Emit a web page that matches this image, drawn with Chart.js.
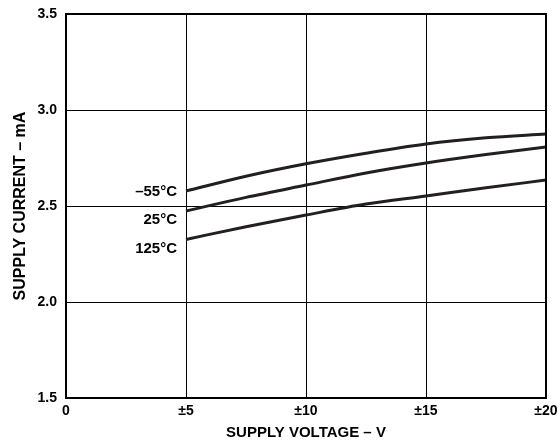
<!DOCTYPE html>
<html>
<head>
<meta charset="utf-8">
<script src="https://cdn.jsdelivr.net/npm/chart.js@4/dist/chart.umd.min.js"></script>
<style>
html,body{margin:0;padding:0;background:#fff;}
#wrap{width:558px;height:446px;}
</style>
</head>
<body>
<div id="wrap"><canvas id="c" width="558" height="446"></canvas></div>
<script>
const voltages = [5, 7.5, 10, 12.5, 15, 17.5, 20];
const curM55 = [2.578, 2.655, 2.720, 2.775, 2.823, 2.855, 2.875];
const cur25  = [2.474, 2.545, 2.609, 2.672, 2.724, 2.768, 2.807];
const cur125 = [2.326, 2.392, 2.453, 2.510, 2.552, 2.595, 2.635];
const seriesLabels = ['\u201355\u00B0C', '25\u00B0C', '125\u00B0C'];
const xTickValues = [0, 5, 10, 15, 20];
const xTickLabels = ['0', '\u00B15', '\u00B110', '\u00B115', '\u00B120'];
const yTickLabels = ['1.5', '2.0', '2.5', '3.0', '3.5'];

const FONT = "'Liberation Sans', Arial, Helvetica, sans-serif";
const INK = '#231f20';

function mk(vals){ return voltages.map((v,i)=>({x:v,y:vals[i]})); }

const labelOffsets = [1, 9, 9];
const curveLabels = {
  id:'curveLabels',
  afterDatasetsDraw(chart){
    const {ctx, scales:{x,y}} = chart;
    ctx.save();
    ctx.font = 'bold 15px ' + FONT;
    ctx.fillStyle = '#000';
    ctx.textAlign = 'right';
    ctx.textBaseline = 'middle';
    chart.data.datasets.forEach((ds,i)=>{
      const px = x.getPixelForValue(ds.data[0].x) - 9;
      const py = y.getPixelForValue(ds.data[0].y) + labelOffsets[i];
      ctx.fillText(ds.label, px, py);
    });
    ctx.restore();
  }
};

new Chart(document.getElementById('c'), {
  type:'line',
  data:{
    datasets:[
      {label:seriesLabels[0], data:mk(curM55)},
      {label:seriesLabels[1], data:mk(cur25)},
      {label:seriesLabels[2], data:mk(cur125)}
    ].map(d=>Object.assign(d,{borderColor:INK,borderWidth:3,pointRadius:0,cubicInterpolationMode:'monotone',fill:false}))
  },
  options:{
    responsive:false,
    animation:false,
    layout:{padding:{top:14,right:0,left:11,bottom:4}},
    plugins:{legend:{display:false},tooltip:{enabled:false}},
    scales:{
      x:{
        type:'linear', min:0, max:20,
        afterBuildTicks(s){ s.ticks = xTickValues.map(v=>({value:v})); },
        afterFit(s){ s.height = 44; s.paddingRight = 12; },
        ticks:{
          callback:(v)=>{const i=xTickValues.indexOf(v); return i>=0?xTickLabels[i]:'';},
          font:{family:FONT,size:14,weight:'bold'}, color:'#000', padding:5, maxRotation:0, autoSkip:false
        },
        grid:{color:'#000',lineWidth:1,drawTicks:false},
        border:{color:'#000',width:2},
        title:{display:true,text:'SUPPLY VOLTAGE \u2013 V',font:{family:FONT,size:15,weight:'bold'},color:'#000',padding:{top:0,bottom:0}}
      },
      y:{
        type:'linear', min:1.5, max:3.5,
        afterBuildTicks(s){ s.ticks = yTickLabels.map(t=>({value:parseFloat(t)})); },
        afterFit(s){ s.width = 55; s.paddingTop = 0; s.paddingBottom = 0; },
        ticks:{
          callback:(v)=>{const i=yTickLabels.map(parseFloat).indexOf(v); return i>=0?yTickLabels[i]:'';},
          font:{family:FONT,size:14,weight:'bold'}, color:'#000', padding:9, autoSkip:false
        },
        grid:{color:'#000',lineWidth:1,drawTicks:false},
        border:{color:'#000',width:2},
        title:{display:true,text:'SUPPLY CURRENT \u2013 mA',font:{family:FONT,size:16,weight:'bold'},color:'#000',padding:{top:0,bottom:0}}
      }
    }
  },
  plugins:[curveLabels, {
    id:'frame',
    afterDraw(chart){
      const {ctx, chartArea:a} = chart;
      ctx.save(); ctx.strokeStyle='#000'; ctx.lineWidth=2;
      ctx.strokeRect(a.left, a.top, a.right-a.left, a.bottom-a.top);
      ctx.restore();
    }
  }]
});
</script>
</body>
</html>
